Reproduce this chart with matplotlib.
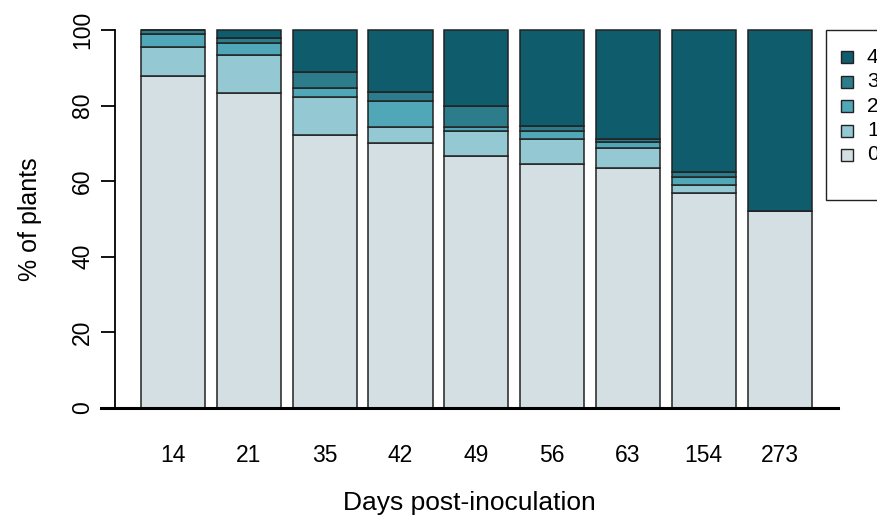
import numpy as np
import matplotlib.pyplot as plt
from matplotlib.patches import Rectangle

plt.rcParams['font.family'] = ['Liberation Sans', 'DejaVu Sans']

days = ['14', '21', '35', '42', '49', '56', '63', '154', '273']
# percentage of plants per score class (0 = no symptoms ... 4 = most severe)
score0 = [87.8, 83.4, 72.2, 70.0, 66.7, 64.5, 63.4, 56.8, 52.2]
score1 = [7.8, 10.0, 10.2, 4.4, 6.7, 6.7, 5.5, 2.2, 0.0]
score2 = [3.3, 3.2, 2.2, 6.8, 1.0, 2.2, 1.6, 2.2, 0.0]
score3 = [1.1, 1.4, 4.4, 2.3, 5.6, 1.2, 0.6, 1.2, 0.0]
score4 = [0.0, 2.0, 11.0, 16.5, 20.0, 25.4, 28.9, 37.6, 47.8]
labels = ['0', '1', '2', '3', '4']
colors = ['#d3dfe3', '#94c8d3', '#4fa7b8', '#2c7c8c', '#0f5c6c']

W, H = 878, 517
fig = plt.figure(figsize=(W / 100, H / 100), dpi=100)
ax = fig.add_axes([101 / W, 109 / H, (838 - 101) / W, 378 / H])

x = np.arange(len(days))
bottom = np.zeros(len(days))
for vals, col in zip([score0, score1, score2, score3, score4], colors):
    ax.bar(x, vals, width=0.845, bottom=bottom, color=col,
           edgecolor='#222222', linewidth=1.1, clip_on=False)
    bottom += np.array(vals)

ax.set_xlim(-0.95, 8.77)
ax.set_ylim(0, 100)

for s in ['top', 'right']:
    ax.spines[s].set_visible(False)
ax.spines['left'].set_position(('data', -0.765))
ax.spines['left'].set_bounds(0, 100)
ax.spines['left'].set_linewidth(1.3)
ax.spines['bottom'].set_linewidth(2.2)

ax.set_yticks([0, 20, 40, 60, 80, 100])
ax.tick_params(axis='y', length=10, width=1.3, labelsize=16.5, pad=5)
for t in ax.get_yticklabels():
    t.set_rotation(90)
    t.set_va('center')
ax.set_xticks(x)
ax.set_xticklabels(days)
ax.tick_params(axis='x', length=0, labelsize=16.5, pad=26)

ax.set_ylabel('% of plants', fontsize=18, labelpad=21)
ax.set_xlabel('Days post-inoculation', fontsize=19, labelpad=17)

# legend box (runs off the right edge, as in the original)
fig.add_artist(Rectangle((826 / W, 1 - 200 / H), 0.2, 170 / H,
                         transform=fig.transFigure, facecolor='white',
                         edgecolor='#222222', linewidth=1.0))
for i, (lab, col) in enumerate(zip(labels[::-1], colors[::-1])):
    yc = 57.3 + 24.4 * i
    fig.add_artist(Rectangle((841 / W, 1 - (yc + 6) / H), 12 / W, 12 / H,
                             transform=fig.transFigure, facecolor=col,
                             edgecolor='#222222', linewidth=1.0))
    fig.text(867 / W, 1 - yc / H, lab, fontsize=15, va='center', ha='left')

fig.savefig('out.png', dpi=100)
